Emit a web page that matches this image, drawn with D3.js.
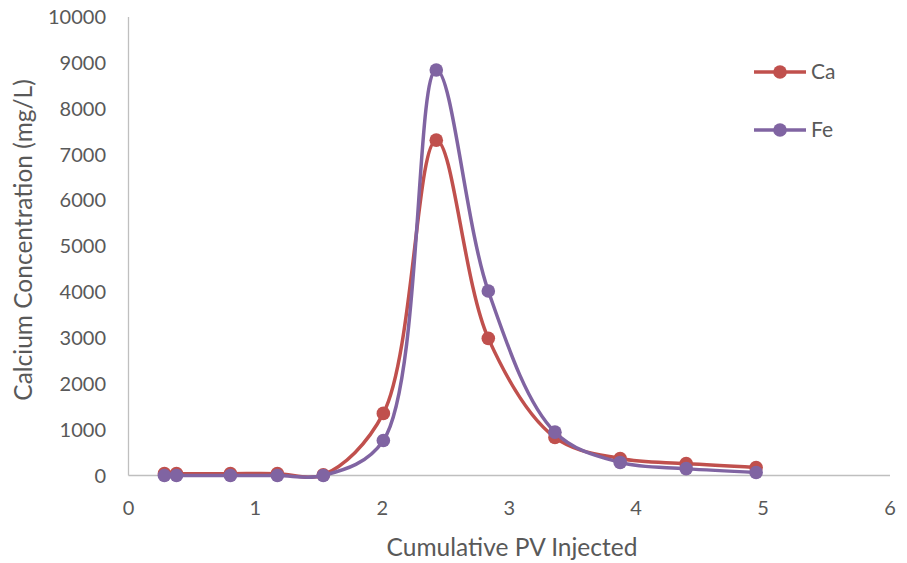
<!DOCTYPE html>
<html><head><meta charset="utf-8">
<script src="https://cdn.jsdelivr.net/npm/d3@7"></script>
<style>body{margin:0;background:#fff}svg{display:block}text{font-family:Lato,"Open Sans",sans-serif;fill:#595959}</style>
</head><body><svg id="c" width="907" height="563"></svg>
<script>
const pvInjected = [0.283, 0.378, 0.803, 1.173, 1.535, 2.008, 2.425, 2.835, 3.36, 3.874, 4.394, 4.945];
const caValues = [40, 40, 40, 40, 15, 1354, 7314, 2991, 830, 370, 260, 175];
const feValues = [0, 0, 0, 0, 0, 764, 8843, 4024, 945, 285, 150, 65];
const seriesNames = ["Ca", "Fe"];
const seriesColors = ["#C0504D", "#8064A2"];
const xTicks = [0, 1, 2, 3, 4, 5, 6];
const yTicks = [0, 1000, 2000, 3000, 4000, 5000, 6000, 7000, 8000, 9000, 10000];

const svg = d3.select("#c");
const x = d3.scaleLinear().domain([0, 6]).range([128.5, 890]);
const y = d3.scaleLinear().domain([0, 10000]).range([475.5, 17]);

svg.append("line").attr("x1", x(0)).attr("x2", x(6)).attr("y1", y(0)).attr("y2", y(0))
  .attr("stroke", "#BFBFBF").attr("stroke-width", 1.3);
svg.append("line").attr("x1", x(0)).attr("x2", x(0)).attr("y1", y(0)).attr("y2", y(10000))
  .attr("stroke", "#BFBFBF").attr("stroke-width", 1.3);

svg.append("g").selectAll("text").data(yTicks).join("text")
  .attr("x", 106).attr("y", d => y(d)).attr("dy", "0.35em").attr("text-anchor", "end")
  .attr("font-size", 20).text(d => d);
svg.append("g").selectAll("text").data(xTicks).join("text")
  .attr("x", d => x(d)).attr("y", 508).attr("dy", "0.35em").attr("text-anchor", "middle")
  .attr("font-size", 20).text(d => d);

svg.append("text").attr("x", 512).attr("y", 547).attr("dy", "0.35em").attr("text-anchor", "middle")
  .attr("font-size", 24.5).text("Cumulative PV Injected");
svg.append("text").attr("transform", "translate(23,240) rotate(-90)").attr("dy", "0.35em")
  .attr("text-anchor", "middle").attr("font-size", 24.5).text("Calcium Concentration (mg/L)");

const series = [caValues, feValues];
const line = d3.line().x(d => x(d[0])).y(d => y(d[1])).curve(d3.curveCatmullRom.alpha(0.5));
series.forEach((vals, i) => {
  const pts = pvInjected.map((p, j) => [p, vals[j]]);
  const g = svg.append("g");
  g.append("path").attr("d", line(pts)).attr("fill", "none")
    .attr("stroke", seriesColors[i]).attr("stroke-width", 3.5).attr("stroke-linejoin", "round");
  g.selectAll("circle").data(pts).join("circle")
    .attr("cx", d => x(d[0])).attr("cy", d => y(d[1])).attr("r", 6.8).attr("fill", seriesColors[i]);
});

const lg = svg.append("g").selectAll("g").data(seriesNames).join("g")
  .attr("transform", (d, i) => `translate(0,${72 + i * 58})`);
lg.append("line").attr("x1", 754).attr("x2", 806).attr("stroke", (d, i) => seriesColors[i]).attr("stroke-width", 3.5);
lg.append("circle").attr("cx", 780).attr("r", 6.8).attr("fill", (d, i) => seriesColors[i]);
lg.append("text").attr("x", 811).attr("dy", "0.35em").attr("font-size", 21).text(d => d);
</script></body></html>
